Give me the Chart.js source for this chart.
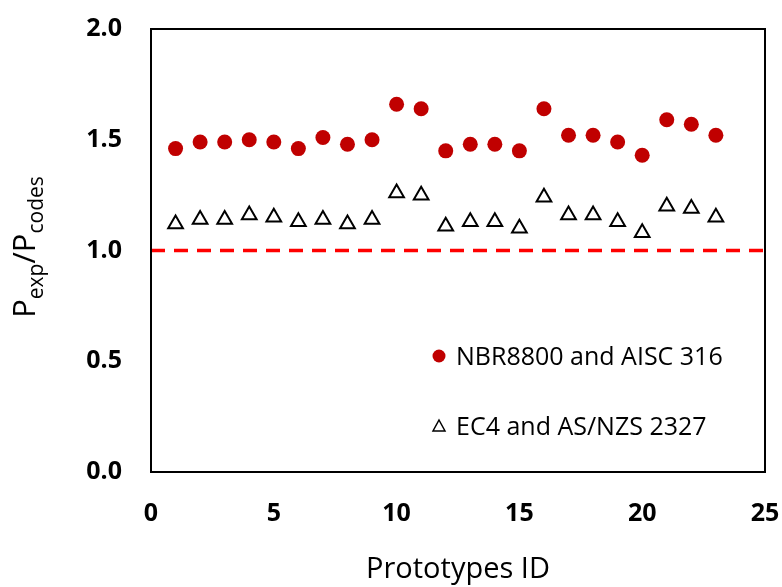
<!DOCTYPE html>
<html>
<head>
<meta charset="utf-8">
<script src="https://cdn.jsdelivr.net/npm/chart.js@4/dist/chart.umd.min.js"></script>
<style>
  html, body { margin: 0; padding: 0; background: #fff; }
  #wrap { width: 782px; height: 587px; }
</style>
</head>
<body>
<div id="wrap"><canvas id="ratioChart" width="782" height="587"></canvas></div>
<script>
// Data
const prototypeIds = [1, 2, 3, 4, 5, 6, 7, 8, 9, 10, 11, 12, 13, 14, 15, 16, 17, 18, 19, 20, 21, 22, 23];
const nbrAisc = [1.46, 1.49, 1.49, 1.50, 1.49, 1.46, 1.51, 1.48, 1.50, 1.66, 1.64, 1.45,
                 1.48, 1.48, 1.45, 1.64, 1.52, 1.52, 1.49, 1.43, 1.59, 1.57, 1.52];
const ec4Asnzs = [1.12, 1.14, 1.14, 1.16, 1.15, 1.13, 1.14, 1.12, 1.14, 1.26, 1.25, 1.11,
                  1.13, 1.13, 1.10, 1.24, 1.16, 1.16, 1.13, 1.08, 1.20, 1.19, 1.15];
const seriesNames = ["NBR8800 and AISC 316", "EC4 and AS/NZS 2327"];
const refLineX = [0, 25];
const refLineY = [1.0, 1.0];
const yTicks = [0, 0.5, 1.0, 1.5, 2.0];
const xTicks = [0, 5, 10, 15, 20, 25];

const FONT = "'Open Sans', 'Liberation Sans', sans-serif";
const ctx = document.getElementById("ratioChart").getContext("2d");

// Box around plot area, legend and y title with subscripts
const extras = {
  id: "extras",
  afterDraw(chart) {
    const c = chart.ctx;
    const a = chart.chartArea;
    c.save();
    c.strokeStyle = "#000";
    c.lineWidth = 2;
    c.strokeRect(a.left, a.top, a.right - a.left, a.bottom - a.top);

    // legend
    c.font = "25px " + FONT;
    c.fillStyle = "#000";
    c.textBaseline = "alphabetic";
    c.textAlign = "left";
    c.beginPath();
    c.arc(439, 356, 6.5, 0, Math.PI * 2);
    c.fillStyle = "#C00000";
    c.fill();
    c.fillStyle = "#000";
    c.fillText(seriesNames[0], 456, 365);

    c.beginPath();
    c.moveTo(439, 420);
    c.lineTo(445, 431);
    c.lineTo(433, 431);
    c.closePath();
    c.fillStyle = "#fff";
    c.fill();
    c.lineWidth = 1.5;
    c.strokeStyle = "#000";
    c.stroke();
    c.fillStyle = "#000";
    c.fillText(seriesNames[1], 456, 435);

    // y axis title: P_exp / P_codes
    const parts = [
      { t: "P", size: 31, dy: 0 },
      { t: "exp", size: 21, dy: 8 },
      { t: "/P", size: 31, dy: 0 },
      { t: "codes", size: 21, dy: 8 }
    ];
    let total = 0;
    parts.forEach(p => {
      c.font = p.size + "px " + FONT;
      p.w = c.measureText(p.t).width;
      total += p.w;
    });
    c.translate(35, 247);
    c.rotate(-Math.PI / 2);
    let x = -total / 2;
    parts.forEach(p => {
      c.font = p.size + "px " + FONT;
      c.fillText(p.t, x, p.dy);
      x += p.w;
    });
    c.restore();
  }
};

const ratioChart = new Chart(ctx, {
  type: "scatter",
  data: {
    datasets: [
      {
        label: seriesNames[0],
        data: prototypeIds.map((id, i) => ({ x: id, y: nbrAisc[i] })),
        pointStyle: "circle",
        pointRadius: 7.5,
        pointHoverRadius: 7.5,
        backgroundColor: "#C00000",
        borderColor: "#C00000",
        borderWidth: 0,
        order: 1
      },
      {
        label: seriesNames[1],
        data: prototypeIds.map((id, i) => ({ x: id, y: ec4Asnzs[i] })),
        pointStyle: "triangle",
        pointRadius: 8.5,
        pointHoverRadius: 8.5,
        backgroundColor: "#fff",
        borderColor: "#000",
        borderWidth: 2,
        order: 2
      },
      {
        label: "reference",
        type: "line",
        data: refLineX.map((x, i) => ({ x: x, y: refLineY[i] })),
        borderColor: "#FF0000",
        borderWidth: 3.5,
        borderDash: [14, 9],
        pointRadius: 0,
        fill: false,
        order: 3
      }
    ]
  },
  options: {
    responsive: false,
    animation: false,
    layout: { padding: { left: 0, top: 29, right: 17, bottom: 0 } },
    plugins: {
      legend: { display: false },
      tooltip: { enabled: false }
    },
    scales: {
      x: {
        type: "linear",
        min: 0,
        max: 25,
        afterBuildTicks: scale => { scale.ticks = xTicks.map(v => ({ value: v })); },
        grid: { display: false, drawTicks: false },
        border: { display: false },
        ticks: {
          padding: 27,
          color: "#000",
          font: { family: FONT, size: 25, weight: "bold" },
          maxRotation: 0
        },
        title: {
          display: true,
          text: "Prototypes ID",
          color: "#000",
          font: { family: FONT, size: 29 },
          padding: { top: 0, bottom: 0 }
        },
        afterFit: scale => {
          scale.height = 115;
          scale.paddingLeft = 0;
          scale.paddingRight = 0;
        }
      },
      y: {
        min: 0,
        max: 2,
        afterBuildTicks: scale => { scale.ticks = yTicks.map(v => ({ value: v })); },
        grid: { display: false, drawTicks: false },
        border: { display: false },
        ticks: {
          padding: 29,
          color: "#000",
          font: { family: FONT, size: 25, weight: "bold" },
          callback: v => v.toFixed(1)
        },
        afterFit: scale => {
          scale.width = 151;
          scale.paddingTop = 0;
          scale.paddingBottom = 0;
        }
      }
    }
  },
  plugins: [extras]
});
</script>
</body>
</html>
